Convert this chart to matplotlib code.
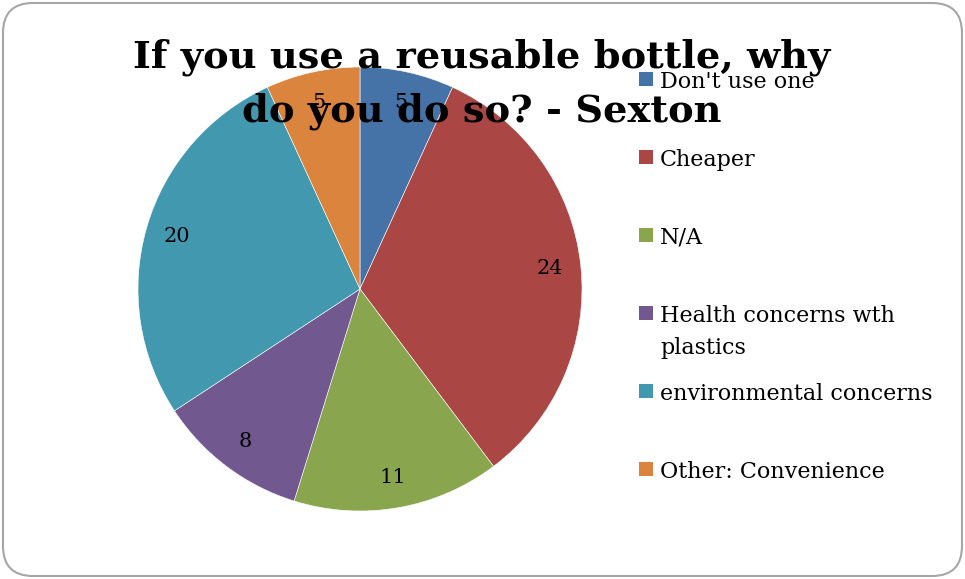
# -*- coding: utf-8 -*-

import matplotlib.pyplot as plt
from matplotlib.patches import FancyBboxPatch, Rectangle

SET_DPI = 100
FIGSIZE = (9.65, 5.79)

categories = ["Don't use one", "Cheaper", "N/A",
              "Health concerns wth\nplastics", "environmental concerns",
              "Other: Convenience"]
counts = [5, 24, 11, 8, 20, 5]
colors = ["#4572A7", "#AA4643", "#89A54E", "#71588F", "#4198AF", "#DB843D"]
title_lines = ["If you use a reusable bottle, why", "do you do so? - Sexton"]

W, H = 965, 579


def px(x, y):
    """pixel position (from top-left) -> figure fraction"""
    return x / W, 1 - y / H


fig = plt.figure(figsize=FIGSIZE, dpi=SET_DPI)

# rounded frame around the whole chart
frame = FancyBboxPatch((3, 3), W - 6, H - 6,
                       boxstyle="round,pad=0,rounding_size=30",
                       transform=None, facecolor="white",
                       edgecolor="#a6a6a6", linewidth=1.5, zorder=-1)
fig.patches.append(frame)

# pie
cx, cy, r = 360, 289, 222
ax = fig.add_axes([(cx - r) / W, (H - cy - r) / H, 2 * r / W, 2 * r / H])
total = sum(counts)
wedges, _, autotexts = ax.pie(
    counts, colors=colors, startangle=90, counterclock=False,
    autopct=lambda p: "%d" % round(p * total / 100.0),
    pctdistance=0.86, radius=1.0,
    wedgeprops=dict(edgecolor="white", linewidth=0.4),
    textprops=dict(family="DejaVu Serif", fontsize=15, color="black"))
ax.set_xlim(-1, 1)
ax.set_ylim(-1, 1)
ax.set_aspect("equal")
ax.axis("off")

# title
for line, ybase in zip(title_lines, [68, 122]):
    fig.text(*px(482, ybase), line, ha="center", va="baseline",
             family="DejaVu Serif", fontweight="bold", fontsize=27.6,
             zorder=5)

# legend: one slot every 78 px, wrapped labels keep the marker on line one
for i, (lab, col) in enumerate(zip(categories, colors)):
    ybase = 88 + 78 * i
    x0, y0 = px(639, ybase - 2)
    fig.patches.append(Rectangle((x0, y0), 14 / W, 14 / H,
                                 transform=fig.transFigure,
                                 facecolor=col, edgecolor="none", zorder=6))
    for j, part in enumerate(lab.split("\n")):
        fig.text(*px(660, ybase + 32 * j), part, ha="left", va="baseline",
                 family="DejaVu Serif", fontsize=16, zorder=6)

plt.savefig("out.png", dpi=SET_DPI)
plt.close()
